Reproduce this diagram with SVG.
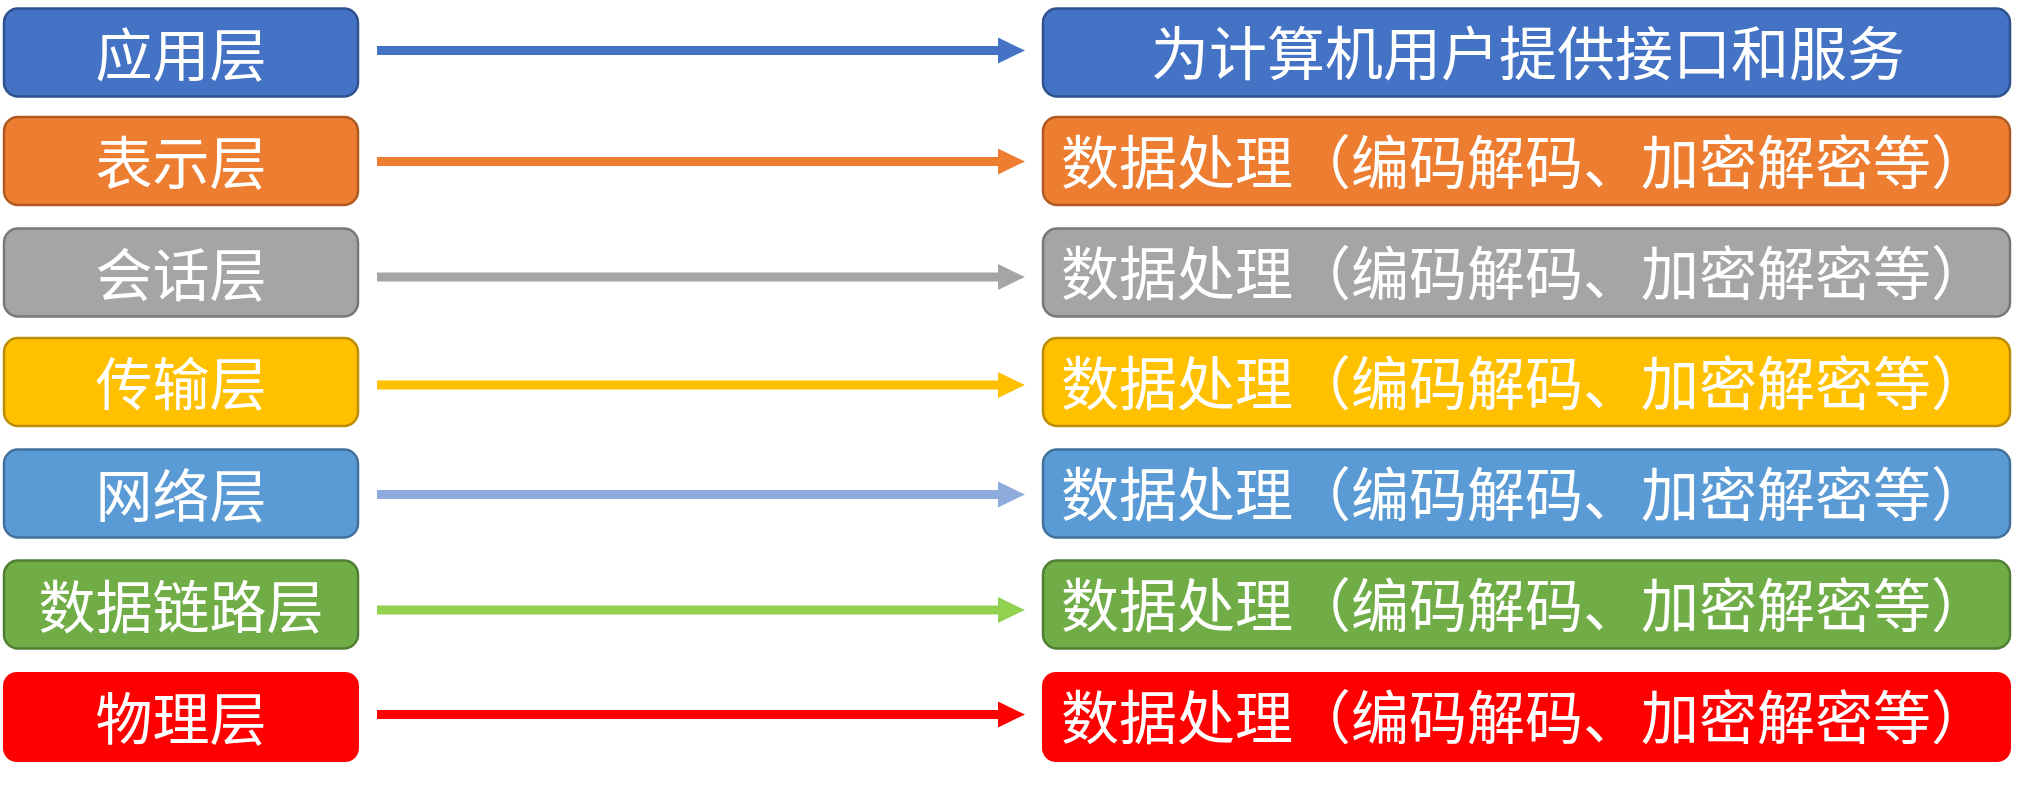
<svg xmlns="http://www.w3.org/2000/svg" width="2029" height="788" viewBox="0 0 2029 788">
  <style>
    text { font-family: "Noto Sans CJK SC", "Noto Sans", sans-serif; fill: #ffffff; font-size: 57px; }
    .lbl { text-anchor: middle; }
    .wide { font-size: 58px; }
    .desc { text-anchor: start; font-size: 58px; }
    .box { stroke-width: 2.5; }
    .conn { stroke-width: 9; fill: none; }
    .blue   { fill: #4472C4; stroke: #2F528F; }
    .orange { fill: #ED7D31; stroke: #AE5A21; }
    .gray   { fill: #A5A5A5; stroke: #787878; }
    .yellow { fill: #FFC000; stroke: #BC8C00; }
    .sky    { fill: #5B9BD5; stroke: #41719C; }
    .green  { fill: #70AD47; stroke: #507E32; }
    .red    { fill: #FF0000; stroke: none; }
  </style>
  <defs>
    <marker id="ah-blue" markerUnits="userSpaceOnUse" markerWidth="27" markerHeight="26" refX="0" refY="13" orient="auto"><path d="M0,0 L27,13 L0,26 Z" fill="#4472C4"/></marker>
    <marker id="ah-orange" markerUnits="userSpaceOnUse" markerWidth="27" markerHeight="26" refX="0" refY="13" orient="auto"><path d="M0,0 L27,13 L0,26 Z" fill="#ED7D31"/></marker>
    <marker id="ah-gray" markerUnits="userSpaceOnUse" markerWidth="27" markerHeight="26" refX="0" refY="13" orient="auto"><path d="M0,0 L27,13 L0,26 Z" fill="#A5A5A5"/></marker>
    <marker id="ah-yellow" markerUnits="userSpaceOnUse" markerWidth="27" markerHeight="26" refX="0" refY="13" orient="auto"><path d="M0,0 L27,13 L0,26 Z" fill="#FFC000"/></marker>
    <marker id="ah-sky" markerUnits="userSpaceOnUse" markerWidth="27" markerHeight="26" refX="0" refY="13" orient="auto"><path d="M0,0 L27,13 L0,26 Z" fill="#8FAADC"/></marker>
    <marker id="ah-green" markerUnits="userSpaceOnUse" markerWidth="27" markerHeight="26" refX="0" refY="13" orient="auto"><path d="M0,0 L27,13 L0,26 Z" fill="#92D050"/></marker>
    <marker id="ah-red" markerUnits="userSpaceOnUse" markerWidth="27" markerHeight="26" refX="0" refY="13" orient="auto"><path d="M0,0 L27,13 L0,26 Z" fill="#FF0000"/></marker>
  </defs>

  <rect width="2029" height="788" fill="#ffffff"/>

  <!-- layers (left column) -->
  <g id="layer-application">
    <rect class="box blue" x="4" y="8.5" width="354" height="88" rx="14"/>
    <text class="lbl" x="181" y="76">应用层</text>
  </g>
  <g id="layer-presentation">
    <rect class="box orange" x="4" y="117" width="354" height="88" rx="14"/>
    <text class="lbl" x="181" y="184">表示层</text>
  </g>
  <g id="layer-session">
    <rect class="box gray" x="4" y="228.5" width="354" height="88" rx="14"/>
    <text class="lbl" x="181" y="296">会话层</text>
  </g>
  <g id="layer-transport">
    <rect class="box yellow" x="4" y="338" width="354" height="88" rx="14"/>
    <text class="lbl" x="181" y="405">传输层</text>
  </g>
  <g id="layer-network">
    <rect class="box sky" x="4" y="449.5" width="354" height="88" rx="14"/>
    <text class="lbl" x="181" y="517">网络层</text>
  </g>
  <g id="layer-datalink">
    <rect class="box green" x="4" y="560.5" width="354" height="88" rx="14"/>
    <text class="lbl" x="181" y="628">数据链路层</text>
  </g>
  <g id="layer-physical">
    <rect class="box red" x="3" y="672" width="356" height="90" rx="14"/>
    <text class="lbl" x="181" y="740">物理层</text>
  </g>

  <!-- connectors -->
  <g id="connectors">
    <line class="conn" x1="377" y1="50.5" x2="998" y2="50.5" stroke="#4472C4" marker-end="url(#ah-blue)"/>
    <line class="conn" x1="377" y1="161.5" x2="998" y2="161.5" stroke="#ED7D31" marker-end="url(#ah-orange)"/>
    <line class="conn" x1="377" y1="277" x2="998" y2="277" stroke="#A5A5A5" marker-end="url(#ah-gray)"/>
    <line class="conn" x1="377" y1="385" x2="998" y2="385" stroke="#FFC000" marker-end="url(#ah-yellow)"/>
    <line class="conn" x1="377" y1="494.5" x2="998" y2="494.5" stroke="#8FAADC" marker-end="url(#ah-sky)"/>
    <line class="conn" x1="377" y1="610" x2="998" y2="610" stroke="#92D050" marker-end="url(#ah-green)"/>
    <line class="conn" x1="377" y1="714.5" x2="998" y2="714.5" stroke="#FF0000" marker-end="url(#ah-red)"/>
  </g>

  <!-- functions (right column) -->
  <g id="func-application">
    <rect class="box blue" x="1043" y="8.5" width="967" height="88" rx="14"/>
    <text class="lbl wide" x="1528" y="75">为计算机用户提供接口和服务</text>
  </g>
  <g id="func-presentation">
    <rect class="box orange" x="1043" y="117" width="967" height="88" rx="14"/>
    <text class="desc" x="1061" y="184">数据处理（编码解码、加密解密等）</text>
  </g>
  <g id="func-session">
    <rect class="box gray" x="1043" y="228.5" width="967" height="88" rx="14"/>
    <text class="desc" x="1061" y="295">数据处理（编码解码、加密解密等）</text>
  </g>
  <g id="func-transport">
    <rect class="box yellow" x="1043" y="338" width="967" height="88" rx="14"/>
    <text class="desc" x="1061" y="405">数据处理（编码解码、加密解密等）</text>
  </g>
  <g id="func-network">
    <rect class="box sky" x="1043" y="449.5" width="967" height="88" rx="14"/>
    <text class="desc" x="1061" y="516">数据处理（编码解码、加密解密等）</text>
  </g>
  <g id="func-datalink">
    <rect class="box green" x="1043" y="560.5" width="967" height="88" rx="14"/>
    <text class="desc" x="1061" y="627">数据处理（编码解码、加密解密等）</text>
  </g>
  <g id="func-physical">
    <rect class="box red" x="1042" y="672" width="969" height="90" rx="14"/>
    <text class="desc" x="1061" y="739">数据处理（编码解码、加密解密等）</text>
  </g>
</svg>
